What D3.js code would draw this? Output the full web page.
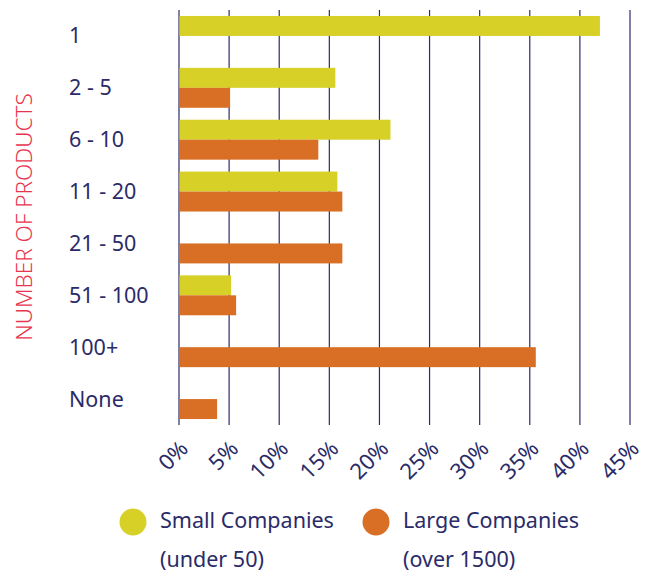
<!DOCTYPE html>
<html>
<head>
<meta charset="utf-8">
<script src="https://cdn.jsdelivr.net/npm/d3@7/dist/d3.min.js"></script>
<style>
  html, body { margin: 0; padding: 0; background: #fff; }
  svg { display: block; }
  text { font-family: "Noto Sans", "Open Sans", sans-serif; }
</style>
</head>
<body>
<svg id="chart" width="651" height="573"></svg>
<script>
// Share of companies by number of products, small vs large companies (%)
const categories = ["1", "2 - 5", "6 - 10", "11 - 20", "21 - 50", "51 - 100", "100+", "None"];
const smallCompanies = [42.0, 15.6, 21.1, 15.8, 0, 5.2, 0, 0];
const largeCompanies = [0, 5.1, 13.9, 16.3, 16.3, 5.7, 35.6, 3.8];
const xTicks = [0, 5, 10, 15, 20, 25, 30, 35, 40, 45];
const seriesNames = ["Small Companies", "Large Companies"];
const seriesNotes = ["(under 50)", "(over 1500)"];
const yTitle = "NUMBER OF PRODUCTS";

const colors = { small: "#d7d027", large: "#d96f25", ink: "#2a2b68", grid: "#2c2c6c", title: "#e8354f" };

const svg = d3.select("#chart");
const plot = { left: 179, right: 630, top: 10, bottom: 425 };

const x = d3.scaleLinear().domain([0, 45]).range([plot.left, plot.right]);
const y = d3.scaleBand().domain(categories).range([plot.top, plot.bottom]).paddingInner(0.23).paddingOuter(0.115);
const sub = d3.scaleBand().domain(["small", "large"]).range([0, y.bandwidth()]);

// vertical gridlines
svg.append("g")
  .selectAll("line")
  .data(xTicks)
  .join("line")
  .attr("x1", d => x(d)).attr("x2", d => x(d))
  .attr("y1", plot.top).attr("y2", plot.bottom)
  .attr("stroke", colors.grid)
  .attr("stroke-width", 1.2);

// bars
const rows = categories.map((c, i) => ({ c, small: smallCompanies[i], large: largeCompanies[i] }));
const groups = svg.append("g").selectAll("g")
  .data(rows)
  .join("g")
  .attr("transform", d => `translate(0,${y(d.c)})`);

groups.selectAll("rect")
  .data(d => ["small", "large"].map(k => ({ k, v: d[k] })))
  .join("rect")
  .attr("x", x(0) + 0.5)
  .attr("y", d => sub(d.k))
  .attr("height", sub.bandwidth())
  .attr("width", d => Math.max(0, x(d.v) - x(0) - 0.5))
  .attr("fill", d => colors[d.k]);

// category labels
svg.append("g")
  .selectAll("text")
  .data(categories)
  .join("text")
  .attr("x", 69)
  .attr("y", d => y(d) + y.bandwidth() / 2)
  .attr("dy", "0.35em")
  .attr("fill", colors.ink)
  .attr("font-size", 21.5)
  .text(d => d);

// x tick labels, rotated
const xAxis = d3.axisBottom(x).tickValues(xTicks).tickFormat(d => d + "%").tickSize(0);
const gx = svg.append("g")
  .attr("transform", `translate(0,${plot.bottom})`)
  .call(xAxis);
gx.select(".domain").remove();
gx.selectAll("text")
  .attr("font-size", 22)
  .attr("font-family", "Noto Sans, Open Sans, sans-serif")
  .attr("fill", colors.ink)
  .attr("text-anchor", "end")
  .attr("dy", null)
  .attr("y", 0)
  .attr("transform", "translate(10,25) rotate(-45)");

// y axis title
svg.append("text")
  .attr("transform", "translate(32,217) rotate(-90)")
  .attr("text-anchor", "middle")
  .attr("fill", colors.title)
  .attr("font-size", 22.5)
  .attr("font-weight", 300)
  .text(yTitle);

// legend
const legendX = [133, 376];
const legend = svg.append("g").selectAll("g")
  .data(seriesNames)
  .join("g")
  .attr("transform", (d, i) => `translate(${legendX[i]},522)`);
legend.append("circle")
  .attr("r", 13.5)
  .attr("fill", (d, i) => i === 0 ? colors.small : colors.large);
legend.append("text")
  .attr("x", 27).attr("y", 6)
  .attr("font-size", 21.5)
  .attr("fill", colors.ink)
  .text(d => d);
legend.append("text")
  .attr("x", 27).attr("y", 45)
  .attr("font-size", 21.5)
  .attr("fill", colors.ink)
  .text((d, i) => seriesNotes[i]);
</script>
</body>
</html>
